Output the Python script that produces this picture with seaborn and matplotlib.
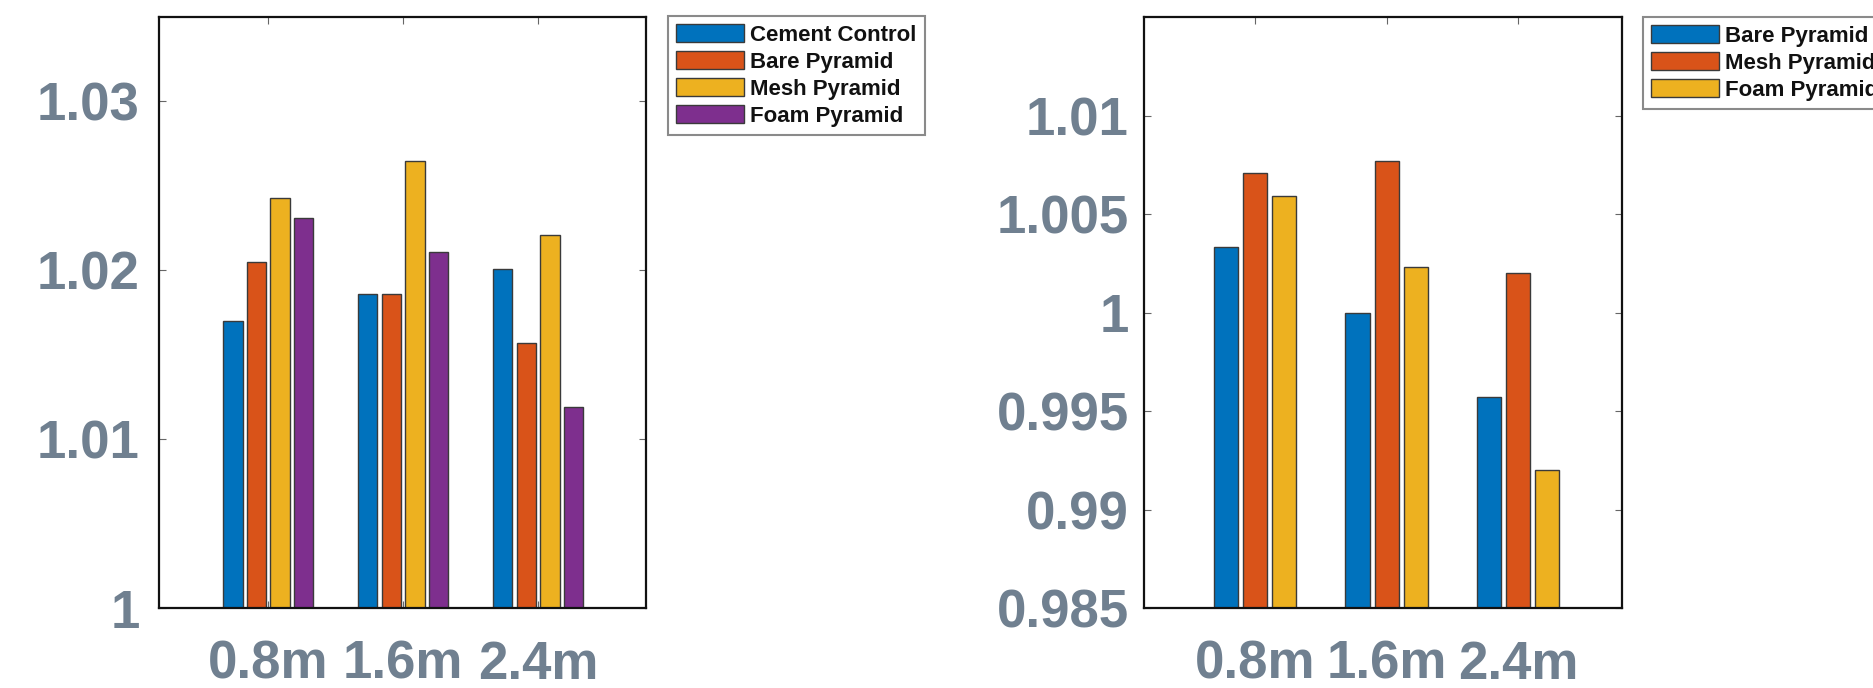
import numpy as np
import pandas as pd
import matplotlib
matplotlib.use("Agg")
import matplotlib.pyplot as plt
import seaborn as sns

# ---------------- data ----------------
distances = ["0.8m", "1.6m", "2.4m"]

left_series = ["Cement Control", "Bare Pyramid", "Mesh Pyramid", "Foam Pyramid"]
left_cement = [1.0170, 1.0186, 1.0201]
left_bare = [1.0205, 1.0186, 1.0157]
left_mesh = [1.0243, 1.0265, 1.0221]
left_foam = [1.0231, 1.0211, 1.0119]
left_yticks = [1.00, 1.01, 1.02, 1.03]
left_yticklabels = ["1", "1.01", "1.02", "1.03"]

right_series = ["Bare Pyramid", "Mesh Pyramid", "Foam Pyramid"]
right_bare = [1.0033, 1.0000, 0.9957]
right_mesh = [1.0071, 1.0077, 1.0020]
right_foam = [1.0059, 1.0023, 0.9920]
right_yticks = [0.985, 0.990, 0.995, 1.000, 1.005, 1.010]
right_yticklabels = ["0.985", "0.99", "0.995", "1", "1.005", "1.01"]

c_blue, c_orange, c_yellow, c_purple = "#0072BD", "#D95319", "#EDB120", "#7E2F8E"

# ---------------- style ----------------
sns.set_style("white")
plt.rcParams["font.family"] = ["Liberation Sans", "DejaVu Sans"]

fig = plt.figure(figsize=(18.73, 6.88), dpi=100)
ax1 = fig.add_axes([159 / 1873, 1 - 608 / 688, (646 - 159) / 1873, (608 - 17) / 688])
ax2 = fig.add_axes([1144 / 1873, 1 - 608 / 688, (1621.5 - 1144) / 1873, (608 - 17) / 688])

label_color = "#708090"


def long_df(series, arrays):
    rows = []
    for s, arr in zip(series, arrays):
        for d, v in zip(distances, arr):
            rows.append({"dist": d, "series": s, "val": v})
    return pd.DataFrame(rows)


df1 = long_df(left_series, [left_cement, left_bare, left_mesh, left_foam])
df2 = long_df(right_series, [right_bare, right_mesh, right_foam])

sns.barplot(data=df1, x="dist", y="val", hue="series", order=distances,
            hue_order=left_series, palette=[c_blue, c_orange, c_yellow, c_purple],
            width=0.70, gap=0.18, edgecolor="#3a3a3a", linewidth=1.0,
            errorbar=None, saturation=1, ax=ax1)
sns.barplot(data=df2, x="dist", y="val", hue="series", order=distances,
            hue_order=right_series, palette=[c_blue, c_orange, c_yellow],
            width=0.664, gap=0.17, edgecolor="#3a3a3a", linewidth=1.0,
            errorbar=None, saturation=1, ax=ax2)


def style_axes(ax, ylim, yticks, yticklabels, xlim, legend_xy, ypad):
    h, l = ax.get_legend_handles_labels()
    if ax.get_legend() is not None:
        ax.get_legend().remove()
    ax.set_ylim(*ylim)
    ax.set_xlim(*xlim)
    ax.set_yticks(yticks)
    ax.set_yticklabels(yticklabels)
    ax.set_xticks(range(len(distances)))
    ax.set_xticklabels(distances)
    ax.set_xlabel("")
    ax.set_ylabel("")
    for sp in ax.spines.values():
        sp.set_visible(True)
        sp.set_color("#111111")
        sp.set_linewidth(1.6)
    ax.tick_params(axis="both", direction="in", length=5, width=0.8,
                   color="#666666", top=True, right=True, left=True, bottom=True)
    ax.tick_params(axis="y", pad=ypad)
    ax.tick_params(axis="x", pad=23)
    for t in ax.get_yticklabels() + ax.get_xticklabels():
        t.set_fontsize(38)
        t.set_fontweight("bold")
        t.set_color(label_color)
    leg = fig.legend(h, l, loc="upper left", bbox_to_anchor=legend_xy,
                     bbox_transform=fig.transFigure, borderaxespad=0,
                     prop={"weight": "bold", "size": 16},
                     handlelength=3.05, handleheight=0.85, handletextpad=0.25,
                     labelspacing=0.24, borderpad=0.38, fancybox=False,
                     frameon=True, framealpha=1)
    leg.get_frame().set_edgecolor("#8a8a8a")
    leg.get_frame().set_linewidth(1.5)
    for t in leg.get_texts():
        t.set_color("#111111")


style_axes(ax1, (1.0, 1.035), left_yticks, left_yticklabels, (-0.81, 2.80),
           (668 / 1873, 1 - 16 / 688), 14)
style_axes(ax2, (0.985, 1.015), right_yticks, right_yticklabels, (-0.845, 2.785),
           (1643 / 1873, 1 - 17 / 688), 11)

fig.savefig("out.png", dpi=100)
